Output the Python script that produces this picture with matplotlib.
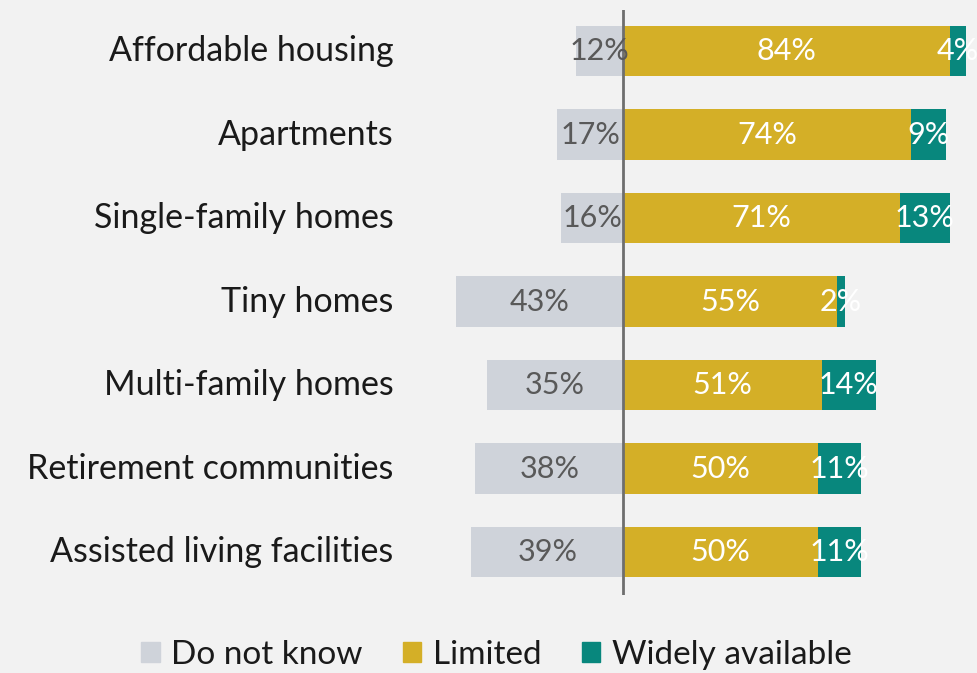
import numpy as np
import matplotlib.pyplot as plt
from matplotlib.patches import Patch

categories = ["Affordable housing", "Apartments", "Single-family homes", "Tiny homes",
              "Multi-family homes", "Retirement communities", "Assisted living facilities"]
dont_know = [12, 17, 16, 43, 35, 38, 39]
limited = [84, 74, 71, 55, 51, 50, 50]
widely = [4, 9, 13, 2, 14, 11, 11]

c_grey = "#cfd3da"
c_gold = "#d4af27"
c_teal = "#08877d"
bg = "#f2f2f2"

plt.rcParams['font.family'] = ['Lato', 'DejaVu Sans']

fig = plt.figure(figsize=(9.77, 6.73), dpi=100, facecolor=bg)
ax = fig.add_axes([0.4386, 0.1159, 0.5578, 0.8692])
ax.set_facecolor(bg)

y = np.arange(len(categories))
dk = np.array(dont_know)
lm = np.array(limited)
wd = np.array(widely)
h = 0.6

ax.barh(y, -dk, height=h, color=c_grey)
ax.barh(y, lm, height=h, color=c_gold)
ax.barh(y, wd, left=lm, height=h, color=c_teal)

fs = 22
for i in range(len(categories)):
    ax.text(-dk[i] / 2, y[i], f"{dk[i]}%", ha="center", va="center", color="#595959", fontsize=fs)
    ax.text(lm[i] / 2, y[i], f"{lm[i]}%", ha="center", va="center", color="white", fontsize=fs)
    ax.text(lm[i] + wd[i] / 2, y[i], f"{wd[i]}%", ha="center", va="center", color="white", fontsize=fs)
    ax.text(-59, y[i], categories[i], ha="right", va="center", color="#1a1a1a", fontsize=24.5)

ax.axvline(0, color="#6e6e6e", lw=2)
ax.set_xlim(-50, 90)
ax.set_ylim(6.515, -0.491)
ax.axis("off")

handles = [Patch(color=c_grey), Patch(color=c_gold), Patch(color=c_teal)]
fig.legend(handles, ["Do not know", "Limited", "Widely available"], loc="center",
           bbox_to_anchor=(0.508, 0.027), ncol=3, frameon=False, fontsize=24,
           handlelength=0.55, handleheight=0.55, handletextpad=0.35, columnspacing=1.2,
           labelcolor="#1a1a1a")

fig.savefig("out.png", dpi=100, facecolor=bg)
